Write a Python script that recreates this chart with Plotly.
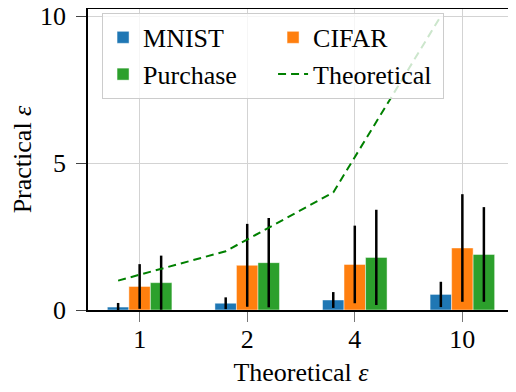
import numpy as np
import plotly.graph_objects as go

# theoretical epsilon budgets (x categories)
eps_labels = ['1', '2', '4', '10']
theoretical = [1, 2, 4, 10]

# measured (practical) epsilon, mean and spread
mnist = [0.10, 0.23, 0.34, 0.53]
mnist_err = [0.14, 0.20, 0.27, 0.43]
cifar = [0.80, 1.52, 1.55, 2.11]
cifar_err = [0.76, 1.41, 1.32, 1.83]
purchase = [0.93, 1.61, 1.79, 1.89]
purchase_err = [0.92, 1.52, 1.62, 1.61]

FONT = 'Liberation Serif'
idx = np.arange(len(eps_labels))
w = 0.2

fig = go.Figure()

def add_bars(vals, errs, name, color, offset):
    fig.add_trace(go.Bar(
        x=idx + offset, y=vals, width=w, name=name,
        marker=dict(color=color, line=dict(color='rgba(255,255,255,0.45)', width=1)),
        error_y=dict(type='data', array=errs, color='black', thickness=2.5, width=0),
    ))

add_bars(mnist, mnist_err, 'MNIST', '#1f77b4', -w)
add_bars(cifar, cifar_err, 'CIFAR', '#ff7f0e', 0)
add_bars(purchase, purchase_err, 'Purchase', '#2ca02c', w)

fig.add_trace(go.Scatter(
    x=idx - w, y=theoretical, mode='lines', name='Theoretical',
    line=dict(color='#008000', width=2, dash='8px,5px'),
))

axis_common = dict(
    showline=True, linecolor='black', linewidth=1.5, mirror=True,
    showgrid=True, gridcolor='#d3d3d3', gridwidth=1.2,
    ticks='outside', ticklen=10, tickwidth=1.2,
    tickfont=dict(family=FONT, size=26, color='black'),
    zeroline=False, automargin=False, ticklabeloverflow='allow',
)

# the page body adds an 8px offset, so the figure is sized a bit smaller
fig.update_layout(
    width=508, height=384,
    margin=dict(l=80, r=2, t=1, b=82, autoexpand=False),
    paper_bgcolor='white', plot_bgcolor='white',
    font=dict(family=FONT, size=26, color='black'),
    barmode='overlay',
    xaxis=dict(
        axis_common, range=[-0.48, 3.48],
        tickvals=idx, ticktext=eps_labels, tickcolor='#777777',
        ticklabelstandoff=-5,
        title=dict(text='Theoretical <i>ε</i>', font=dict(family=FONT, size=26), standoff=10),
    ),
    yaxis=dict(
        axis_common, range=[0, 10.24],
        tickvals=[0, 5, 10], tickcolor='#444444',
        ticklabelstandoff=5,
        title=dict(text='Practical <i>ε</i>', font=dict(family=FONT, size=26), standoff=26),
    ),
    legend=dict(
        orientation='h', x=0.033, y=0.987, xanchor='left', yanchor='top',
        entrywidth=125, entrywidthmode='pixels',
        bgcolor='rgba(255,255,255,0.8)', bordercolor='#cccccc', borderwidth=1,
        font=dict(family=FONT, size=26, color='black'),
    ),
)

fig.write_html("out.html")
